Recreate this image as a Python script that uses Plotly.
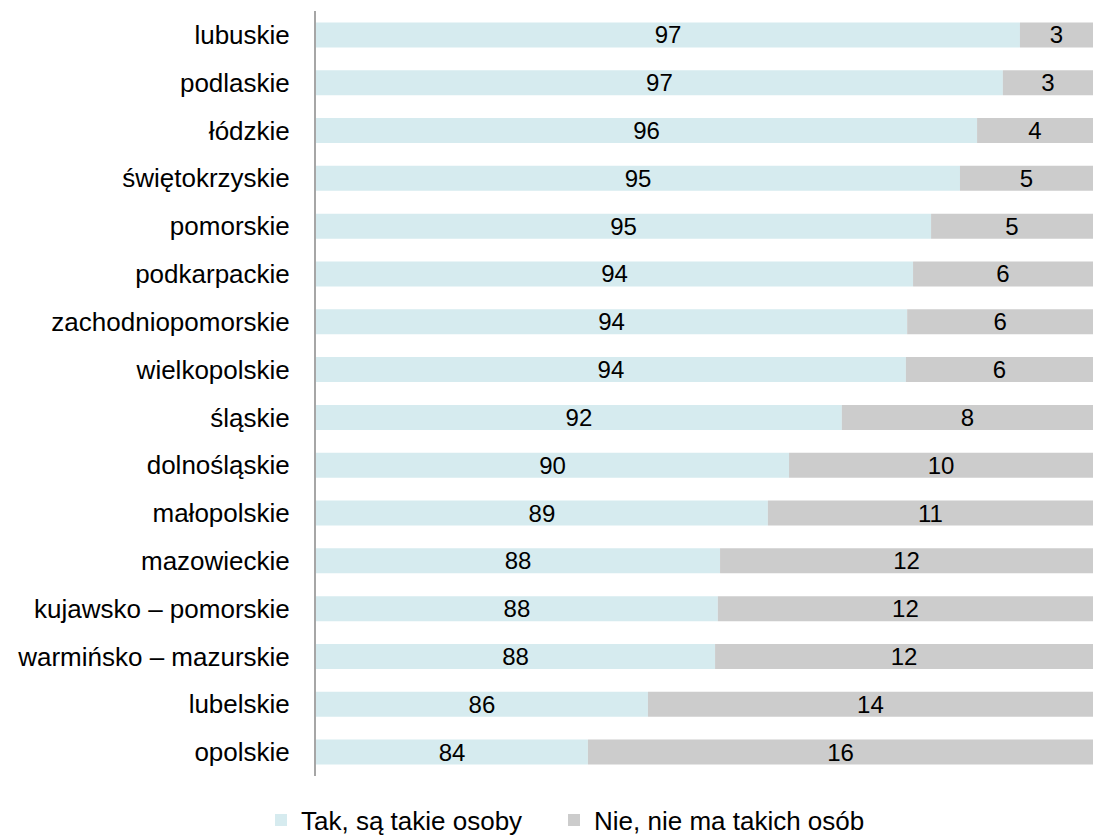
import plotly.graph_objects as go

regions = ["lubuskie", "podlaskie", "łódzkie", "świętokrzyskie", "pomorskie",
           "podkarpackie", "zachodniopomorskie", "wielkopolskie", "śląskie",
           "dolnośląskie", "małopolskie", "mazowieckie", "kujawsko – pomorskie",
           "warmińsko – mazurskie", "lubelskie", "opolskie"]
tak = [97.65, 97.10, 96.27, 95.72, 94.79, 94.21, 94.02, 93.98, 91.92,
       90.22, 89.54, 88.00, 87.93, 87.84, 85.68, 83.75]
nie = [2.35, 2.90, 3.73, 4.28, 5.21, 5.79, 5.98, 6.02, 8.08,
       9.78, 10.46, 12.00, 12.07, 12.16, 14.32, 16.25]
tak_labels = [97, 97, 96, 95, 95, 94, 94, 94, 92, 90, 89, 88, 88, 88, 86, 84]
nie_labels = [3, 3, 4, 5, 5, 6, 6, 6, 8, 10, 11, 12, 12, 12, 14, 16]
AXIS_MIN = 75
AXIS_MAX = 100

FONT = "Liberation Sans, Arial, sans-serif"

fig = go.Figure()
fig.add_trace(go.Bar(
    y=regions, x=[t - AXIS_MIN for t in tak], base=AXIS_MIN, orientation="h",
    name="Tak, są takie osoby", marker=dict(color="#D6EBEF", line=dict(width=0)),
    text=[str(v) for v in tak_labels], textposition="inside", insidetextanchor="middle",
    textangle=0, constraintext="none", legend="legend",
    textfont=dict(size=24, color="#000000", family=FONT),
))
fig.add_trace(go.Bar(
    y=regions, x=nie, base=tak, orientation="h",
    name="Nie, nie ma takich osób", marker=dict(color="#CCCCCC", line=dict(width=0)),
    text=[str(v) for v in nie_labels], textposition="inside", insidetextanchor="middle",
    textangle=0, constraintext="none", legend="legend2",
    textfont=dict(size=24, color="#000000", family=FONT),
))

legend_common = dict(orientation="h", xanchor="left", y=-0.0575, yanchor="middle",
                     font=dict(size=26), itemwidth=30, bgcolor="rgba(0,0,0,0)")

# plot width = 1093 - 316 = 777 px
fig.update_layout(
    width=1093, height=840,
    barmode="overlay", bargap=0.476,
    plot_bgcolor="white", paper_bgcolor="white",
    margin=dict(l=316, r=0, t=11, b=64, autoexpand=False),
    font=dict(family=FONT, size=26, color="#000000"),
    showlegend=True,
    legend=dict(x=(261 - 316) / 777, **legend_common),
    legend2=dict(x=(554 - 316) / 777, **legend_common),
    xaxis=dict(range=[AXIS_MIN, AXIS_MAX], showticklabels=False, showgrid=False,
               zeroline=False, showline=False, fixedrange=True),
    yaxis=dict(autorange="reversed", showline=True, linecolor="#A6A6A6", linewidth=2,
               ticks="", showgrid=False, ticklabelstandoff=19,
               tickfont=dict(size=26)),
)

fig.write_html("out.html", config={"displayModeBar": False},
               post_script="document.body.style.margin='0';")
